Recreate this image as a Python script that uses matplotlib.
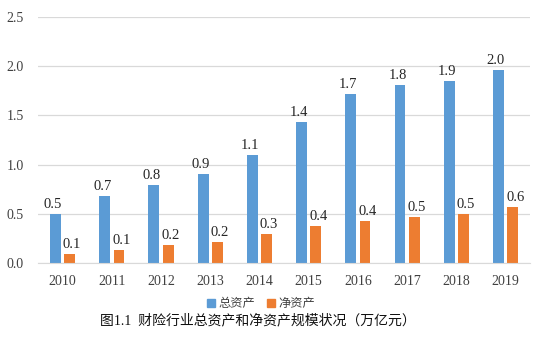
import numpy as np
import matplotlib.pyplot as plt
from matplotlib.patches import Patch

years = ['2010', '2011', '2012', '2013', '2014', '2015', '2016', '2017', '2018', '2019']
total_assets = [0.50, 0.68, 0.79, 0.90, 1.10, 1.43, 1.72, 1.81, 1.85, 1.96]
net_assets = [0.09, 0.135, 0.18, 0.21, 0.29, 0.38, 0.43, 0.47, 0.50, 0.57]
series_names = ['总资产', '净资产']
caption = '图1.1  财险行业总资产和净资产规模状况（万亿元）'

blue = '#5B9BD5'
orange = '#ED7D31'
serif = ['Liberation Serif', 'Noto Sans CJK SC']
cjk = ['Noto Sans CJK SC', 'DejaVu Sans']

fig = plt.figure(figsize=(5.5, 3.5), dpi=100)
ax = fig.add_axes([0.069, 0.249, 0.895, 0.702])

x = np.arange(len(years))
w = 0.22
b1 = ax.bar(x - 0.145, total_assets, w, color=blue)
b2 = ax.bar(x + 0.145, net_assets, w, color=orange)

# 막대 위 값 표시
for rect, v in zip(b1, total_assets):
    ax.text(rect.get_x() + rect.get_width() / 2 - 0.05, v + 0.03, f'{v:.1f}',
            ha='center', va='bottom', fontsize=10.5, family=serif, color='#262626')
for rect, v in zip(b2, net_assets):
    ax.text(rect.get_x() + rect.get_width() / 2 + 0.05, v + 0.03, f'{v:.1f}',
            ha='center', va='bottom', fontsize=10.5, family=serif, color='#262626')

ax.set_ylim(0, 2.5)
ax.set_xlim(-0.5, len(years) - 0.5)
ax.set_yticks(np.arange(0, 2.51, 0.5))
ax.set_yticklabels([f'{t:.1f}' for t in np.arange(0, 2.51, 0.5)])
ax.set_xticks(x)
ax.set_xticklabels(years)
for lab in ax.get_xticklabels() + ax.get_yticklabels():
    lab.set_family(serif)
    lab.set_fontsize(10)
    lab.set_color('#404040')
ax.tick_params(length=0, pad=9)
ax.tick_params(axis='y', pad=10)

ax.grid(axis='y', color='#D9D9D9', linewidth=0.9)
ax.set_axisbelow(True)
for s in ['top', 'right', 'left']:
    ax.spines[s].set_visible(False)
ax.spines['bottom'].set_color('#D9D9D9')

handles = [Patch(color=blue), Patch(color=orange)]
fig.legend(handles, series_names, loc='center', bbox_to_anchor=(0.475, 0.133), ncol=2,
           frameon=False, handlelength=0.6, handleheight=0.6, handletextpad=0.3,
           columnspacing=1.0, prop={'family': cjk, 'size': 8.8}, labelcolor='#404040')

fig.text(0.468, 0.085, caption, ha='center', va='center', fontsize=10, family=serif, color='#111111')

fig.savefig('out.png', dpi=100)
